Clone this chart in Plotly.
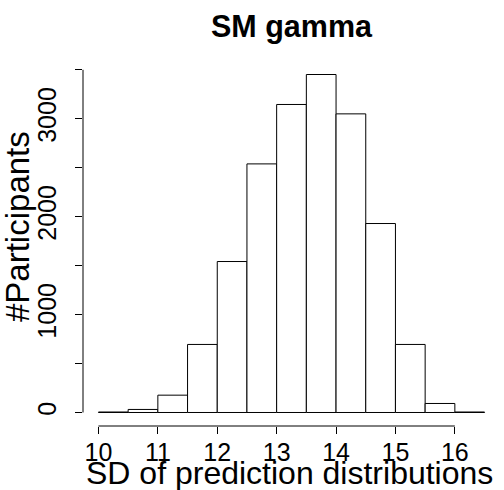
import plotly.graph_objects as go

# Histogram of per-participant SD of prediction distributions (bin width 0.5)
bin_left = [10.0, 10.5, 11.0, 11.5, 12.0, 12.5, 13.0, 13.5, 14.0, 14.5, 15.0, 15.5, 16.0]
counts = [5, 31, 177, 695, 1542, 2539, 3146, 3452, 3050, 1930, 695, 92, 5]
bin_width = 0.5

x_ticks = [10, 11, 12, 13, 14, 15, 16]
y_ticks = [0, 500, 1000, 1500, 2000, 2500, 3000, 3500]
y_tick_text = ["0", "", "1000", "", "2000", "", "3000", ""]

title_text = "SM gamma"
x_title = "SD of prediction distributions"
y_title = "#Participants"

FONT = "Liberation Sans, Arial, Helvetica, sans-serif"

centers = [b + bin_width / 2 for b in bin_left]

fig = go.Figure(
    go.Bar(
        x=centers,
        y=counts,
        width=[bin_width] * len(centers),
        marker=dict(color="white", line=dict(color="black", width=1)),
        hoverinfo="x+y",
    )
)

W, H = 504, 490
m_l, m_r, m_t, m_b = 83, 4, 61, 64
plot_h = H - m_t - m_b
plot_w = W - m_l - m_r


def py(pix):
    """pixel row -> paper y"""
    return (H - m_b - pix) / plot_h


def px(pix):
    """pixel column -> paper x"""
    return (pix - m_l) / plot_w


fig.update_layout(
    width=W,
    height=H,
    margin=dict(l=m_l, r=m_r, t=m_t, b=m_b, pad=0),
    paper_bgcolor="white",
    plot_bgcolor="white",
    showlegend=False,
    font=dict(family=FONT, color="black", size=25),
    xaxis=dict(
        range=[9.74, 16.76],
        tickvals=x_ticks,
        ticktext=[str(v) for v in x_ticks],
        ticks="outside",
        ticklen=7,
        tickwidth=1,
        tickcolor="black",
        ticklabelstandoff=-3,
        showline=False,
        showgrid=False,
        zeroline=False,
        tickfont=dict(size=25),
    ),
    yaxis=dict(
        range=[-138, 3590],
        tickvals=y_ticks,
        ticktext=y_tick_text,
        tickangle=-90,
        ticks="outside",
        ticklen=7,
        tickwidth=1,
        tickcolor="black",
        ticklabelstandoff=9,
        showline=False,
        showgrid=False,
        zeroline=False,
        tickfont=dict(size=25),
    ),
    shapes=[
        # R-style axis lines spanning only the tick range
        dict(type="line", xref="paper", yref="y", x0=0, x1=0,
             y0=y_ticks[0], y1=y_ticks[-1], line=dict(color="black", width=1)),
        dict(type="line", xref="x", yref="paper", x0=x_ticks[0], x1=x_ticks[-1],
             y0=0, y1=0, line=dict(color="black", width=1)),
    ],
    annotations=[
        dict(text="<b>%s</b>" % title_text, xref="paper", yref="paper",
             x=0.5, y=py(26), xanchor="center", yanchor="middle",
             showarrow=False, font=dict(size=30.5)),
        dict(text=x_title, xref="paper", yref="paper",
             x=px(289), y=py(472.5), xanchor="center", yanchor="middle",
             showarrow=False, font=dict(size=32)),
        dict(text=y_title, xref="paper", yref="paper", textangle=-90,
             x=px(17), y=py(227), xanchor="center", yanchor="middle",
             showarrow=False, font=dict(size=33)),
    ],
)

fig.write_html("out.html")
